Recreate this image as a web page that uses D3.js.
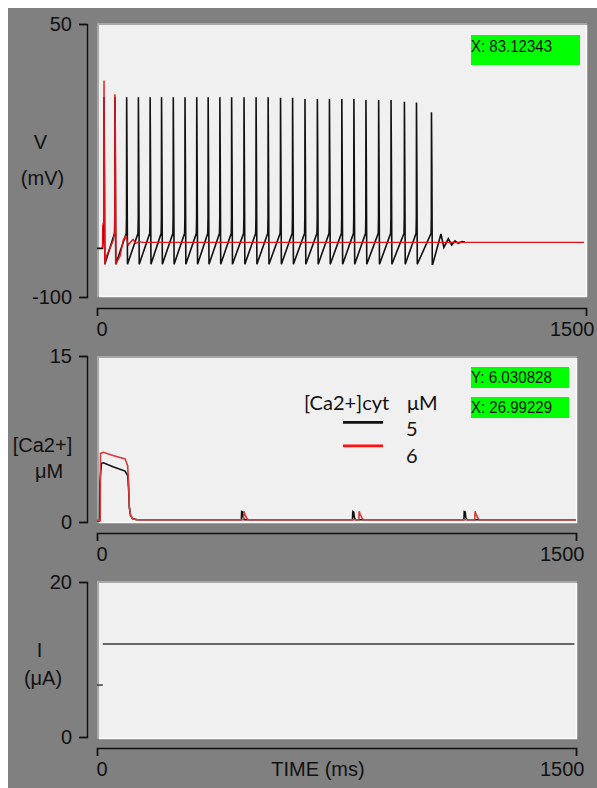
<!DOCTYPE html>
<html>
<head>
<meta charset="utf-8">
<script src="https://cdn.jsdelivr.net/npm/d3@7"></script>
<style>
  body { margin: 0; background: #fff; }
  svg { display: block; }
  text { font-family: "Liberation Sans", Arial, sans-serif; fill: #111; }
</style>
</head>
<body>
<svg width="597" height="788"></svg>
<script>
// ---- membrane potential (mV) ----
// spike times (ms) and peak values
const blackSpikeT = [21.5, 55, 91, 127, 163, 198, 234, 270, 306, 341, 377, 413, 451, 488,
                     525, 563, 600, 638, 676, 713, 751, 788, 825, 864, 902, 943, 980, 1026];
const blackSpikePeak = [10, 10, 9.8, 9.8, 9.8, 9.8, 9.8, 9.8, 9.8, 9.8, 9.8, 9.8, 9.8, 9.8,
                        9.8, 9.5, 9.5, 8.8, 8.8, 8.8, 8.8, 8.8, 8.2, 8.2, 8.2, 7.3, 6.8, 1.5];
const blackLevels = { trough: -82, ramp: -65, thresh: -56, fall: -30 };
const blackStart = [[0, -73.3], [17, -73.3]];
const blackTail = [[1029.8, -82], [1055, -65.4], [1064, -72.7], [1077.6, -68], [1088, -71.4],
                   [1098, -69.2], [1108, -70.5], [1119, -69.6], [1129, -69.8]];
const redV = [[17, -73], [17.5, -61], [21, -58], [21.5, 19], [22.5, -25], [24, -82], [28, -78],
              [40, -73], [50, -68.7], [54.5, -64], [55, 11.4], [56.5, -10], [58, -82], [63, -80],
              [70.6, -77.6], [80.7, -68.7], [88, -66.5], [96, -71.4], [104, -69.6], [111, -68.3],
              [118.7, -70.5], [129, -69.6], [140, -70], [1494, -70]];

// ---- cytosolic Ca2+ (uM) ----
const caBlack = [[0, 0.1], [8, 0.1], [9, 3.6], [14, 5.3], [20, 5.35], [50, 5.0], [88, 4.6], [96, 4.2],
                 [99, 3.0], [101, 1.4], [105, 0.6], [112, 0.3], [125, 0.2],
                 [452, 0.2], [453, 0.95], [456, 0.9], [458, 0.4], [462, 0.2],
                 [800, 0.2], [801, 0.95], [804, 0.9], [806, 0.4], [810, 0.2],
                 [1149, 0.2], [1150, 0.95], [1153, 0.9], [1155, 0.4], [1159, 0.2], [1500, 0.2]];
const caRed = [[0, 0.15], [10, 0.15], [11, 6.2], [20, 6.3], [50, 6.0], [88, 5.7], [96, 5.1], [99, 3.5],
               [101, 1.4], [105, 0.6], [112, 0.3], [125, 0.2],
               [459, 0.2], [460, 0.96], [463, 0.7], [470, 0.3], [474, 0.2],
               [820, 0.2], [821, 0.96], [824, 0.7], [831, 0.3], [835, 0.2],
               [1183, 0.2], [1184, 0.96], [1187, 0.7], [1194, 0.3], [1198, 0.2], [1500, 0.2]];
const legendTitle = ['[Ca2+]cyt', 'μM'];
const legendLabels = ['5', '6'];

// ---- stimulus current (uA) ----
const currentSegs = [[[0, 6.7], [18, 6.7]], [[18, 12], [1495, 12]]];

// ---- axis ticks and cursor readouts ----
const timeTicks = [0, 1500];
const vTicks = [-100, 50];
const caTicks = [0, 15];
const iTicks = [0, 20];
const readoutV = ['X: 83.12343'];
const readoutCa = ['Y: 6.030828', 'X: 26.99229'];

const BLACK = '#111', RED = '#e3121b';
const svg = d3.select('svg');

svg.append('rect').attr('x', 8).attr('y', 8).attr('width', 589).attr('height', 780).attr('fill', '#808080');

// build the black voltage path from the spike list
const blackV = blackStart.slice();
blackSpikeT.forEach((t, i) => {
  blackV.push([t - 1.2, blackLevels.ramp], [t - 0.4, blackLevels.thresh], [t, blackSpikePeak[i]],
              [t + 1.2, blackLevels.fall], [t + 2.5, blackLevels.trough]);
});
blackTail.forEach(p => blackV.push(p));

const plainNum = d => String(d);

function panel(p) {
  const x = d3.scaleLinear().domain([0, 1500]).range(p.xr);
  const y = d3.scaleLinear().domain(d3.extent(p.ticks)).range(p.yr);

  svg.append('rect').attr('x', p.x0).attr('y', p.y0).attr('width', p.x1 - p.x0).attr('height', p.y1 - p.y0)
    .attr('fill', '#f0f0f0');
  svg.append('path').attr('d', `M${p.x0 + 1},${p.y1}V${p.y0 + 1}H${p.x1}`)
    .attr('fill', 'none').attr('stroke', '#a8a8a8').attr('stroke-width', 2);
  svg.append('path').attr('d', `M${p.x0 + 2},${p.y1 - 0.5}H${p.x1 - 0.5}V${p.y0 + 2}`)
    .attr('fill', 'none').attr('stroke', '#fbfbfb').attr('stroke-width', 1.5);

  const ya = svg.append('g').attr('transform', 'translate(87,0)')
    .call(d3.axisLeft(y).tickValues(p.ticks).tickFormat(plainNum).tickSize(8).tickPadding(7));
  const xa = svg.append('g').attr('transform', `translate(0,${p.axisY})`)
    .call(d3.axisBottom(x).tickValues(timeTicks).tickFormat(plainNum).tickSize(8).tickPadding(6));
  [ya, xa].forEach(g => {
    g.attr('font-size', null).attr('font-family', null);
    g.selectAll('path,line').attr('stroke', BLACK).attr('stroke-width', 1.4);
    g.selectAll('text').attr('font-size', 20).attr('fill', BLACK);
  });
  xa.selectAll('.tick text').attr('text-anchor', (d, i) => i === 0 ? 'start' : 'end')
    .attr('x', (d, i) => i === 0 ? -1 : 8);

  p.labels.forEach(l => {
    svg.append('text').attr('x', l[1]).attr('y', l[2]).attr('dy', '0.35em')
      .attr('text-anchor', 'middle').attr('font-size', 20).text(l[0]);
  });
  return { x, y };
}

function readouts(texts, x, y0, w, h, gap, base) {
  texts.forEach((s, i) => {
    const yy = y0 + i * gap;
    svg.append('rect').attr('x', x).attr('y', yy).attr('width', w).attr('height', h).attr('fill', '#00ff00');
    svg.append('text').attr('x', x).attr('y', yy + base)
      .attr('font-family', '"Liberation Sans Narrow", "Liberation Sans", Arial, sans-serif')
      .attr('font-size', 17).attr('textLength', 81).attr('lengthAdjust', 'spacingAndGlyphs').text(s);
  });
}

// ---- panel 1: V ----
const p1 = panel({ x0: 97, x1: 587, y0: 23, y1: 297, xr: [97, 586], yr: [297, 24], axisY: 308,
                   ticks: vTicks, labels: [['V', 40.5, 141.5], ['(mV)', 42.5, 178]] });
const line1 = d3.line().x(d => p1.x(d[0])).y(d => p1.y(d[1]));
svg.append('path').datum(blackV).attr('d', line1).attr('fill', 'none').attr('stroke', BLACK).attr('stroke-width', 1.6);
svg.append('path').datum(redV).attr('d', line1).attr('fill', 'none').attr('stroke', RED).attr('stroke-width', 1.4);
readouts(readoutV, 471, 35, 109, 30, 0, 17);

// ---- panel 2: Ca2+ ----
const p2 = panel({ x0: 97, x1: 577, y0: 356, y1: 523, xr: [97, 576], yr: [522, 356], axisY: 533,
                   ticks: caTicks, labels: [['[Ca2+]', 42.5, 445], ['μM', 49, 471]] });
const line2 = d3.line().x(d => p2.x(d[0])).y(d => p2.y(d[1]));
svg.append('path').datum(caBlack).attr('d', line2).attr('fill', 'none').attr('stroke', BLACK).attr('stroke-width', 1.6);
svg.append('path').datum(caRed).attr('d', line2).attr('fill', 'none').attr('stroke', '#d83a3a').attr('stroke-width', 1.6);
readouts(readoutCa, 471, 367, 98, 21, 30, 16);

const leg = svg.append('g');
leg.append('text').attr('x', 304).attr('y', 410).attr('font-size', 20).style('font-family', 'Lato, sans-serif').text(legendTitle[0]);
leg.append('text').attr('x', 407).attr('y', 410).attr('font-size', 20).style('font-family', 'Lato, sans-serif').text(legendTitle[1]);
[BLACK, '#ff1010'].forEach((c, i) => {
  leg.append('line').attr('x1', 343).attr('x2', 383).attr('y1', 422.3 + i * 23.5).attr('y2', 422.3 + i * 23.5)
    .attr('stroke', c).attr('stroke-width', 2.8);
  leg.append('text').attr('x', 406).attr('y', 436 + i * 27).attr('font-size', 20)
    .style('font-family', 'Lato, sans-serif').text(legendLabels[i]);
});

// ---- panel 3: I ----
const p3 = panel({ x0: 97, x1: 577, y0: 581, y1: 739, xr: [97, 576], yr: [737, 582], axisY: 748,
                   ticks: iTicks, labels: [['I', 39.5, 650], ['(μA)', 43, 678], ['TIME (ms)', 318, 769]] });
const line3 = d3.line().x(d => p3.x(d[0])).y(d => p3.y(d[1]));
svg.selectAll('.iseg').data(currentSegs).enter().append('path').attr('class', 'iseg')
  .attr('d', line3).attr('fill', 'none').attr('stroke', '#3a3a3a').attr('stroke-width', 1.5);
</script>
</body>
</html>
